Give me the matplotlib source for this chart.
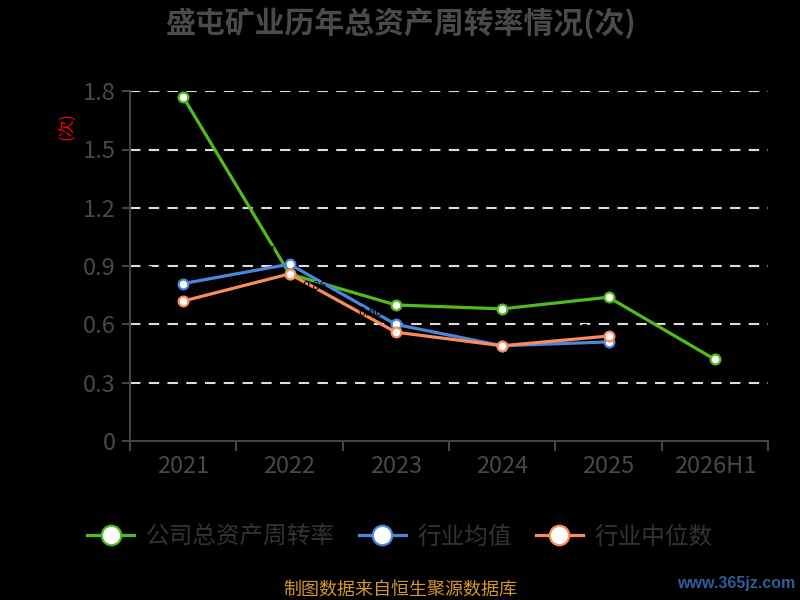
import matplotlib
matplotlib.use("Agg")
import matplotlib.pyplot as plt

plt.rcParams['font.family'] = ['Noto Sans CJK SC', 'DejaVu Sans']

years = ["2021", "2022", "2023", "2024", "2025", "2026H1"]
company = [1.77, 0.86, 0.70, 0.68, 0.74, 0.42]
ind_mean = [0.81, 0.91, 0.60, 0.49, 0.51]
ind_median = [0.72, 0.86, 0.56, 0.49, 0.54]
yticks = [0, 0.3, 0.6, 0.9, 1.2, 1.5, 1.8]
ytick_labels = ["0", "0.3", "0.6", "0.9", "1.2", "1.5", "1.8"]

green = '#52bb1c'
blue = '#4a86dc'
orange = '#fa8c5c'
axis_grey = '#444444'
text_grey = '#484848'

fig = plt.figure(figsize=(8, 6), dpi=100, facecolor='black')
ax = fig.add_axes([0.1625, 0.265, 0.7975, 0.583])
ax.set_facecolor('black')

x = list(range(len(years)))
# name, values, colour, label x shift, label y shift, ha, va
series = [
    ("公司总资产周转率", company, green, 0.12, 0.03, 'left', 'bottom'),
    ("行业均值", ind_mean, blue, -0.12, 0.03, 'right', 'bottom'),
    ("行业中位数", ind_median, orange, 0.12, -0.03, 'left', 'top'),
]
for name, vals, c, dx, dy, ha, va in series:
    xs = x[:len(vals)]
    ax.plot(xs, vals, color=c, lw=2.3, marker='o', ms=7, mfc='white',
            mec=c, mew=1.6, label=name, zorder=3)
    # value labels are black in the original, so they hardly show
    for xi, v in zip(xs, vals):
        ax.text(xi + dx, v + dy, "%.2f" % v, color='black', fontsize=9,
                ha=ha, va=va, zorder=4)

ax.set_xlim(-0.5, len(years) - 0.5)
ax.set_ylim(0, 1.8)
ax.set_yticks(yticks)
ax.set_yticklabels(ytick_labels)
ax.set_xticks(x)
ax.set_xticklabels(years)
ax.set_xticks([i - 0.5 for i in range(len(years) + 1)], minor=True)
ax.tick_params(axis='x', which='major', length=0, pad=10, labelsize=17,
               labelcolor=text_grey)
ax.tick_params(axis='x', which='minor', length=7, width=1.5, color=axis_grey)
ax.tick_params(axis='y', length=6, width=1.5, color=axis_grey, pad=4,
               labelsize=17, labelcolor=text_grey)

for y in yticks[1:]:
    ax.axhline(y, color='#dddddd', lw=1.5, ls=(0, (5, 4)), zorder=1)

for s in ['top', 'right']:
    ax.spines[s].set_visible(False)
for s in ['left', 'bottom']:
    ax.spines[s].set_color(axis_grey)
    ax.spines[s].set_linewidth(1.5)

fig.text(0.085, 0.79, "(次)", color='red', fontsize=12, rotation=90,
         ha='center', va='center')

fig.text(0.5, 0.962, "盛屯矿业历年总资产周转率情况(次)", color='#4a4a4a',
         fontsize=21.5, fontweight='bold', ha='center', va='center')

leg = fig.legend(loc='center', bbox_to_anchor=(0.5, 0.105), ncol=3,
                 frameon=False, fontsize=17, markerscale=2.0,
                 handlelength=2.0, columnspacing=1.0, handletextpad=0.5)
for t in leg.get_texts():
    t.set_color('#333333')

fig.text(0.5, 0.017, "制图数据来自恒生聚源数据库", color='#d4952a',
         fontsize=13, ha='center', va='center')
fig.text(0.92, 0.027, "www.365jz.com", color='#2e5d9a', fontsize=11.5,
         fontweight='bold', ha='center', va='center', family='Liberation Sans')

fig.savefig("out.png", dpi=100, facecolor='black')
